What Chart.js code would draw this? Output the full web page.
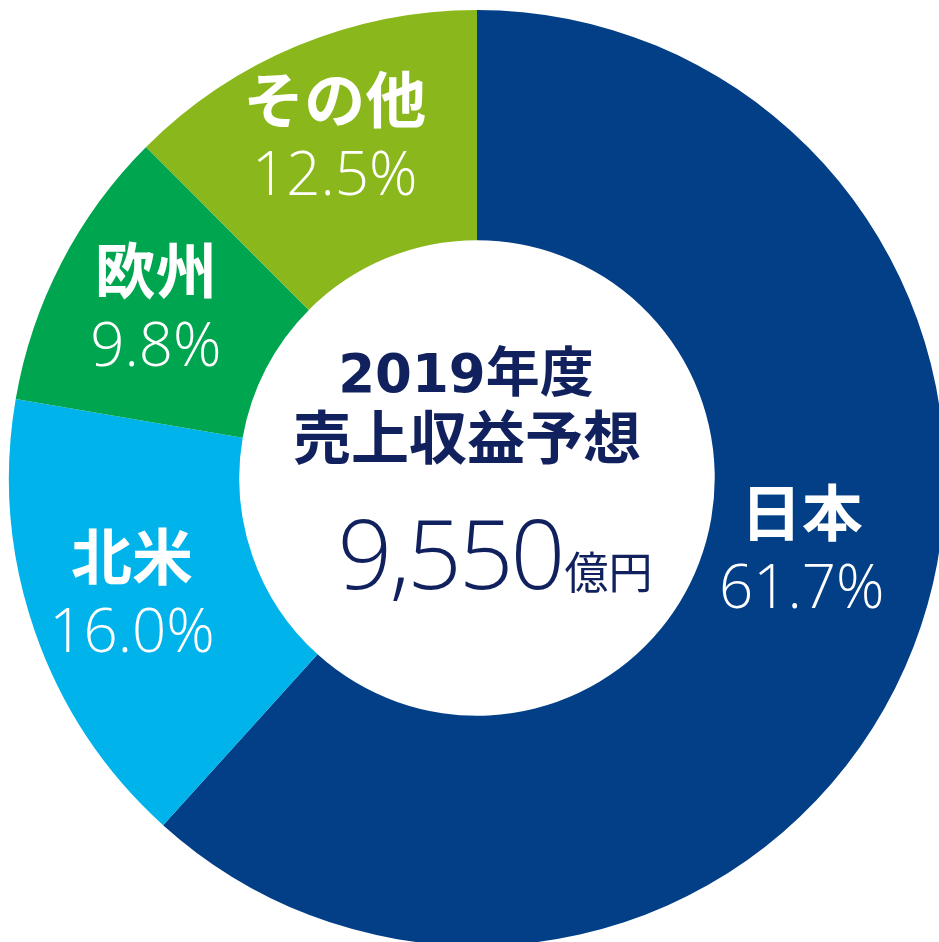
<!DOCTYPE html>
<html lang="ja">
<head>
<meta charset="utf-8">
<script src="https://cdn.jsdelivr.net/npm/chart.js@4.4.1/dist/chart.umd.min.js"></script>
<style>
  html, body { margin: 0; padding: 0; background: #fff; overflow: hidden; width: 939px; height: 942px; }
  #wrap { position: absolute; left: 0; top: 0; width: 954px; height: 956px; }
  .seg-label {
    position: absolute; transform: translate(-50%, -50%);
    display: flex; flex-direction: column; align-items: center; gap: 15px;
    color: #fff; white-space: nowrap;
  }
  .seg-name { font: 700 61px/1 "Noto Sans CJK JP", sans-serif; }
  .seg-pct { font: 300 60px/1 "Open Sans", "Noto Sans", sans-serif; }
  .center-line { position: absolute; transform: translateX(-50%); white-space: nowrap; color: #10215e; }
</style>
</head>
<body>
<div id="wrap">
  <canvas id="shareChart"></canvas>
</div>
<script>
// 2019年度 売上収益予想 — 地域別構成比

const regions = ['日本', '北米', '欧州', 'その他'];
const shares = [61.7, 16.0, 9.8, 12.5];
const regionColors = ['#033F87', '#00B3EB', '#00A54F', '#8AB81C'];
const centerYear = '2019';
const centerTitle = ['年度', '売上収益予想'];
const totalValue = '9,550';
const totalUnit = '億円';

// label placement: angle shift (deg) and radius from centre
const labelAngleShift = [-9, 1, 1, 0];
const labelRadius = [332, 363, 365, 372];

const wrap = document.getElementById('wrap');
const ctx = document.getElementById('shareChart').getContext('2d');

const chart = new Chart(ctx, {
  type: 'doughnut',
  data: {
    labels: regions,
    datasets: [{
      data: shares,
      backgroundColor: regionColors,
      borderWidth: 0
    }]
  },
  options: {
    responsive: true,
    maintainAspectRatio: false,
    animation: false,
    cutout: '50.8%',
    layout: { padding: 9 },
    plugins: {
      legend: { display: false },
      tooltip: { enabled: false }
    }
  }
});

function addLabels() {
  const arcs = chart.getDatasetMeta(0).data;
  arcs.forEach((arc, i) => {
    const p = arc.getProps(['x', 'y', 'startAngle', 'endAngle']);
    const mid = (p.startAngle + p.endAngle) / 2 + labelAngleShift[i] * Math.PI / 180;
    const el = document.createElement('div');
    el.className = 'seg-label';
    el.style.left = (p.x + Math.cos(mid) * labelRadius[i]) + 'px';
    el.style.top = (p.y + Math.sin(mid) * labelRadius[i]) + 'px';
    el.innerHTML = `<div class="seg-name">${regions[i]}</div><div class="seg-pct">${shares[i].toFixed(1)}%</div>`;
    wrap.appendChild(el);
  });

  // centre text
  const cx = arcs[0].x, cy = arcs[0].y;
  const l1 = document.createElement('div');
  l1.className = 'center-line';
  l1.style.cssText = `left:${cx - 11}px;top:${cy - 149}px;line-height:54px;`;
  l1.innerHTML = `<span style="font:700 53px 'DejaVu Sans',sans-serif">${centerYear}</span>` +
    `<span style="font:700 54px 'Noto Sans CJK JP',sans-serif">${centerTitle[0]}</span>`;
  const l2 = document.createElement('div');
  l2.className = 'center-line';
  l2.style.cssText = `left:${cx - 10}px;top:${cy - 73}px;font:700 58px/58px "Noto Sans CJK JP",sans-serif;`;
  l2.textContent = centerTitle[1];
  const l3 = document.createElement('div');
  l3.className = 'center-line';
  l3.style.cssText = `left:${cx + 18}px;top:${cy + 8}px;line-height:96px;`;
  l3.innerHTML = `<span style="font:300 96px 'Open Sans','Noto Sans',sans-serif;letter-spacing:-3px">${totalValue}</span>` +
    `<span style="font:400 44px 'Noto Sans CJK JP',sans-serif;margin-left:2px">${totalUnit}</span>`;
  [l1, l2, l3].forEach(l => wrap.appendChild(l));
}

addLabels();
</script>
</body>
</html>
